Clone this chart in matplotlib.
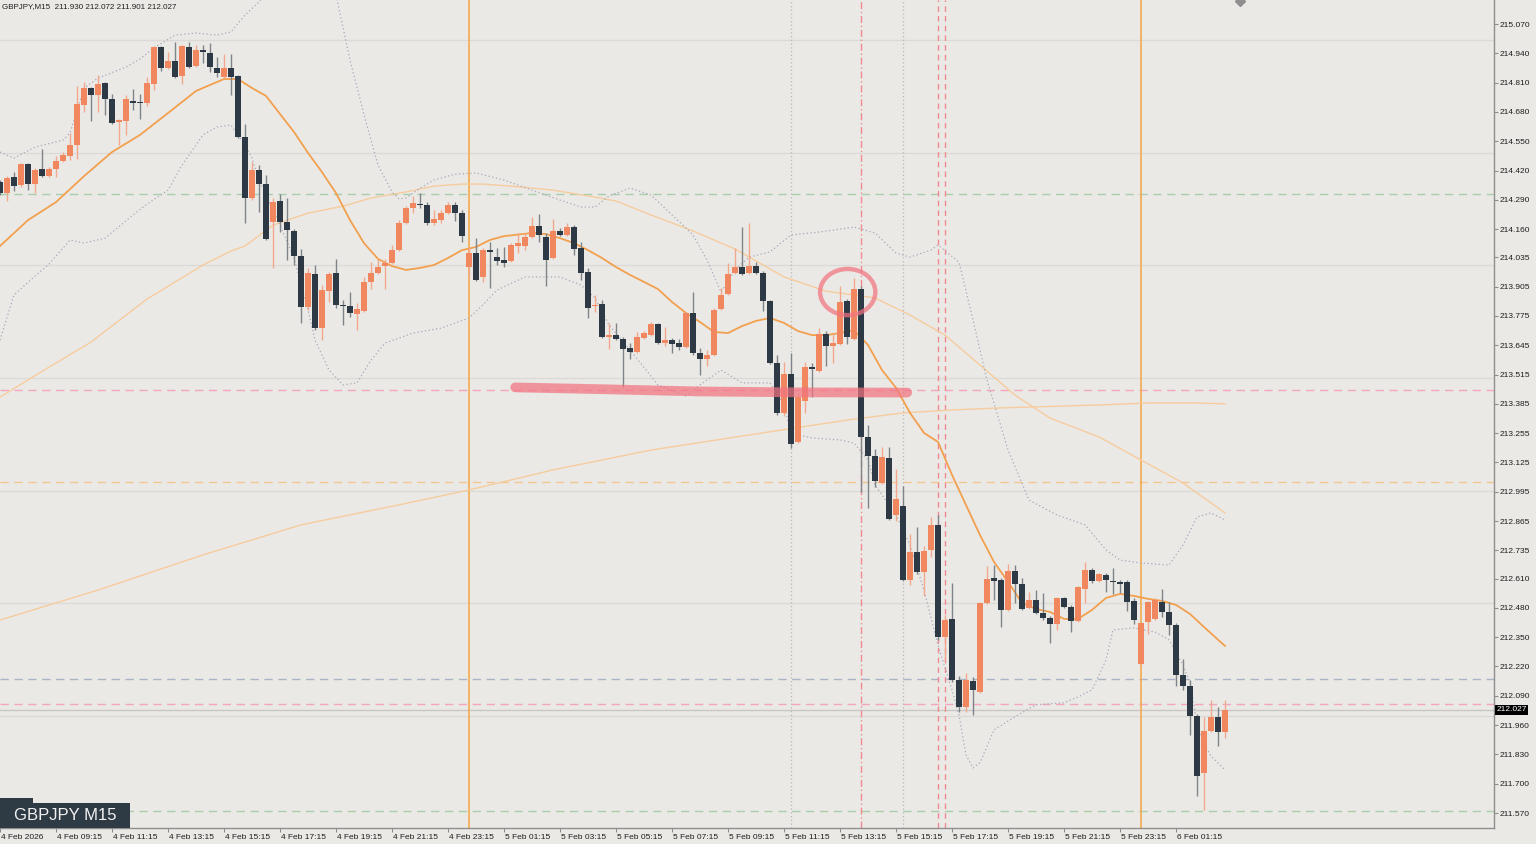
import matplotlib
matplotlib.use("Agg")
import matplotlib.pyplot as plt
import numpy as np
import pandas as pd
from matplotlib.patches import Ellipse, Rectangle
from matplotlib.transforms import ScaledTranslation, blended_transform_factory

# GBPJPY M15 bars, 4 Feb 2026 07:15 .. 6 Feb 03:00
opens = [
    214.369, 214.320, 214.391, 214.356, 214.449, 214.360, 214.426, 214.395, 214.426, 214.462,
    214.484, 214.533, 214.711, 214.786, 214.755, 214.808, 214.737, 214.635, 214.640, 214.729,
    214.724, 214.720, 214.804, 214.968, 214.875, 214.906, 214.839, 214.968, 214.884, 214.955,
    214.941, 214.875, 214.835, 214.875, 214.839, 214.569, 214.298, 214.422, 214.360, 214.191,
    214.285, 214.191, 214.152, 214.041, 213.815, 213.961, 213.721, 213.885, 213.965, 213.824,
    213.819, 213.784, 213.797, 213.926, 213.965, 213.996, 214.010, 214.067, 214.187, 214.254,
    214.271, 214.267, 214.187, 214.200, 214.231, 214.267, 214.231, 213.992, 214.054, 213.948,
    214.067, 214.036, 214.023, 214.019, 214.085, 214.085, 214.125, 214.174, 214.125, 214.032,
    214.152, 214.134, 214.169, 214.076, 213.970, 213.819, 213.828, 213.681, 213.690, 213.673,
    213.633, 213.615, 213.677, 213.690, 213.739, 213.655, 213.668, 213.655, 213.637, 213.788,
    213.611, 213.584, 213.602, 213.806, 213.872, 213.965, 213.992, 213.965, 213.996, 213.965,
    213.841, 213.566, 213.344, 213.518, 213.216, 213.398, 213.548, 213.531, 213.695, 213.642,
    213.650, 213.841, 213.673, 213.894, 213.238, 213.154, 213.034, 213.145, 212.892, 212.932,
    212.604, 212.728, 212.639, 212.737, 212.848, 212.351, 212.431, 212.160, 212.041, 212.156,
    212.107, 212.502, 212.613, 212.604, 212.471, 212.644, 212.586, 212.480, 212.515, 212.457,
    212.435, 212.409, 212.524, 212.484, 212.422, 212.564, 212.648, 212.599, 212.626, 212.599,
    212.595, 212.595, 212.511, 212.231, 212.418, 212.431, 212.506, 212.462, 212.404, 212.182,
    212.134, 211.999, 211.748, 211.934, 211.996, 211.930,
]
highs = [
    214.378, 214.395, 214.413, 214.453, 214.453, 214.431, 214.515, 214.435, 214.484, 214.502,
    214.587, 214.795, 214.813, 214.790, 214.844, 214.813, 214.759, 214.649, 214.755, 214.782,
    214.759, 214.835, 214.972, 214.972, 214.946, 214.990, 214.977, 214.990, 214.977, 214.977,
    214.986, 214.924, 214.937, 214.937, 214.844, 214.627, 214.458, 214.444, 214.400, 214.298,
    214.316, 214.298, 214.160, 214.072, 213.988, 214.001, 213.912, 213.970, 214.028, 213.846,
    213.881, 213.832, 213.948, 214.014, 214.028, 214.028, 214.090, 214.200, 214.262, 214.307,
    214.320, 214.280, 214.245, 214.245, 214.280, 214.280, 214.245, 214.081, 214.120, 214.076,
    214.103, 214.076, 214.081, 214.098, 214.143, 214.143, 214.214, 214.227, 214.143, 214.205,
    214.165, 214.187, 214.178, 214.103, 213.988, 213.868, 213.846, 213.744, 213.744, 213.681,
    213.655, 213.704, 213.708, 213.748, 213.744, 213.726, 213.677, 213.673, 213.793, 213.881,
    213.633, 213.624, 213.810, 213.899, 214.010, 214.076, 214.169, 214.187, 214.014, 213.974,
    213.846, 213.602, 213.571, 213.611, 213.433, 213.571, 213.566, 213.721, 213.708, 213.699,
    213.908, 213.850, 213.943, 213.908, 213.291, 213.185, 213.194, 213.194, 213.096, 213.021,
    212.808, 212.839, 212.755, 212.883, 212.892, 212.449, 212.590, 212.178, 212.191, 212.174,
    212.506, 212.666, 212.670, 212.613, 212.675, 212.670, 212.613, 212.550, 212.559, 212.546,
    212.444, 212.528, 212.528, 212.493, 212.577, 212.684, 212.657, 212.635, 212.635, 212.657,
    212.604, 212.604, 212.524, 212.418, 212.511, 212.524, 212.564, 212.506, 212.413, 212.254,
    212.160, 212.010, 211.996, 212.072, 212.041, 212.072,
]
lows = [
    214.311, 214.285, 214.329, 214.347, 214.333, 214.320, 214.391, 214.391, 214.391, 214.458,
    214.466, 214.471, 214.680, 214.640, 214.680, 214.667, 214.627, 214.533, 214.578, 214.688,
    214.649, 214.706, 214.777, 214.862, 214.870, 214.830, 214.804, 214.875, 214.879, 214.897,
    214.857, 214.835, 214.830, 214.755, 214.564, 214.187, 214.289, 214.236, 214.112, 213.988,
    214.147, 214.023, 214.001, 213.744, 213.801, 213.712, 213.668, 213.837, 213.810, 213.735,
    213.770, 213.712, 213.793, 213.894, 213.961, 213.894, 214.005, 214.063, 214.183, 214.231,
    214.254, 214.178, 214.178, 214.187, 214.227, 214.196, 214.103, 213.943, 213.930, 213.926,
    213.899, 214.001, 213.992, 214.014, 214.054, 214.067, 214.120, 214.103, 213.908, 214.028,
    214.129, 214.129, 214.045, 213.934, 213.766, 213.793, 213.677, 213.628, 213.668, 213.460,
    213.584, 213.611, 213.673, 213.686, 213.650, 213.642, 213.611, 213.624, 213.633, 213.602,
    213.513, 213.553, 213.597, 213.801, 213.868, 213.961, 213.957, 213.961, 213.961, 213.797,
    213.562, 213.335, 213.331, 213.189, 213.211, 213.344, 213.415, 213.526, 213.553, 213.566,
    213.646, 213.650, 213.668, 212.994, 212.923, 213.016, 213.029, 212.870, 212.865, 212.599,
    212.582, 212.630, 212.533, 212.706, 212.338, 212.249, 212.151, 212.018, 212.018, 212.005,
    212.103, 212.497, 212.515, 212.395, 212.466, 212.502, 212.471, 212.475, 212.453, 212.426,
    212.324, 212.382, 212.480, 212.373, 212.418, 212.502, 212.590, 212.595, 212.550, 212.542,
    212.546, 212.466, 212.409, 212.227, 212.364, 212.426, 212.440, 212.360, 212.134, 212.116,
    211.916, 211.646, 211.584, 211.930, 211.867, 211.901,
]
closes = [
    214.320, 214.387, 214.351, 214.449, 214.360, 214.422, 214.395, 214.426, 214.462, 214.489,
    214.533, 214.715, 214.786, 214.755, 214.804, 214.737, 214.631, 214.644, 214.737, 214.720,
    214.720, 214.808, 214.968, 214.875, 214.906, 214.835, 214.972, 214.879, 214.955, 214.946,
    214.879, 214.853, 214.875, 214.835, 214.569, 214.298, 214.422, 214.360, 214.116, 214.280,
    214.191, 214.156, 214.041, 213.815, 213.965, 213.721, 213.890, 213.961, 213.824, 213.819,
    213.788, 213.806, 213.926, 213.965, 213.992, 214.010, 214.067, 214.187, 214.254, 214.276,
    214.267, 214.187, 214.205, 214.231, 214.267, 214.231, 214.129, 214.054, 213.934, 214.067,
    214.059, 214.019, 214.010, 214.090, 214.098, 214.125, 214.174, 214.134, 214.023, 214.152,
    214.134, 214.169, 214.072, 213.965, 213.810, 213.824, 213.681, 213.690, 213.673, 213.628,
    213.615, 213.681, 213.699, 213.739, 213.655, 213.668, 213.650, 213.637, 213.788, 213.611,
    213.584, 213.602, 213.801, 213.868, 213.961, 213.992, 213.961, 213.996, 213.965, 213.841,
    213.566, 213.344, 213.518, 213.207, 213.415, 213.548, 213.540, 213.695, 213.642, 213.655,
    213.837, 213.681, 213.894, 213.238, 213.154, 213.043, 213.149, 212.874, 212.963, 212.604,
    212.728, 212.639, 212.732, 212.848, 212.351, 212.426, 212.160, 212.041, 212.160, 212.116,
    212.502, 212.608, 212.599, 212.471, 212.644, 212.586, 212.475, 212.515, 212.457, 212.435,
    212.409, 212.524, 212.484, 212.422, 212.573, 212.648, 212.599, 212.630, 212.604, 212.595,
    212.586, 212.506, 212.426, 212.413, 212.506, 212.515, 212.462, 212.404, 212.182, 212.134,
    211.999, 211.735, 211.934, 211.996, 211.930, 212.027,
]
times = pd.date_range("2026-02-04 07:15", periods=len(opens), freq="15min")

# indicator lines at (bar index, price)
ma_bars = [0, 4, 8, 12, 16, 20, 24, 28, 32, 34, 36, 38, 40, 42, 44, 46, 48, 50, 52, 54,
           56, 58, 60, 62, 64, 66, 68, 70, 72, 76, 78, 80, 82, 84, 86, 88, 90, 92, 94, 96,
           98, 100, 102, 104, 106, 108, 110, 112, 114, 116, 118, 120, 122, 124, 126, 128, 130, 132, 134, 136,
           138, 140, 142, 144, 146, 148, 150, 152, 154, 156, 158, 160, 162, 164, 166, 168, 170, 172, 175]
ma_vals = [214.085, 214.200, 214.280, 214.395, 214.502, 214.578, 214.675, 214.773, 214.826, 214.826,
           214.786, 214.751, 214.671, 214.591, 214.498, 214.413, 214.320, 214.200, 214.098, 214.028,
           213.996, 213.979, 213.988, 214.001, 214.032, 214.067, 214.081, 214.112, 214.129, 214.143,
           214.138, 214.120, 214.098, 214.067, 214.032, 213.992, 213.957, 213.926, 213.894, 213.837,
           213.788, 213.748, 213.704, 213.699, 213.730, 213.753, 213.766, 213.744, 213.708, 213.690,
           213.690, 213.699, 213.712, 213.646, 213.535, 213.456, 213.345, 213.256, 213.216, 213.070,
           212.936, 212.803, 212.684, 212.595, 212.502, 212.475, 212.462, 212.431, 212.431, 212.471,
           212.524, 212.542, 212.533, 212.520, 212.511, 212.493, 212.453, 212.395, 212.311]

bb_up_bars = [0, 2, 5, 9, 10, 12, 14, 18, 20, 22, 25, 28, 31, 33, 35, 37, 40, 45, 48, 50,
              52, 54, 56, 57, 58, 60, 62, 65, 68, 72, 76, 80, 83, 85, 87, 90, 93, 98, 99, 101,
              103, 105, 107, 110, 113, 117, 122, 125, 128, 130, 133, 134, 137, 139, 141, 144, 147, 151, 155, 158,
              160, 163, 167, 169, 171, 173, 175]
bb_up_vals = [214.502, 214.475, 214.524, 214.555, 214.587, 214.786, 214.830, 214.879, 214.915, 214.964,
              215.021, 215.030, 215.021, 215.035, 215.110, 215.168, 215.290, 215.310, 215.200, 214.910,
              214.667, 214.444, 214.325, 214.294, 214.298, 214.342, 214.378, 214.404, 214.409, 214.378,
              214.333, 214.289, 214.258, 214.258, 214.307, 214.342, 214.311, 214.165, 214.134, 214.023,
              213.881, 213.979, 214.036, 214.059, 214.134, 214.147, 214.169, 214.143, 214.054, 214.036,
              214.067, 214.090, 214.014, 213.757, 213.491, 213.180, 212.958, 212.892, 212.848, 212.737,
              212.692, 212.679, 212.670, 212.759, 212.883, 212.901, 212.870]

bb_lo_bars = [0, 2, 5, 7, 10, 12, 15, 19, 21, 24, 26, 29, 31, 33, 35, 36, 37, 40, 42, 44,
              45, 47, 49, 51, 53, 55, 59, 63, 67, 69, 71, 75, 80, 83, 85, 87, 90, 94, 98, 100,
              103, 106, 110, 112, 113, 116, 120, 122, 124, 125, 128, 130, 132, 134, 136, 137, 138, 139, 140, 142,
              145, 148, 152, 154, 156, 158, 159, 162, 165, 167, 169, 170, 171, 172, 173, 175]
bb_lo_vals = [213.668, 213.868, 213.952, 214.005, 214.112, 214.098, 214.120, 214.223, 214.271, 214.333,
              214.444, 214.578, 214.613, 214.622, 214.533, 214.475, 214.378, 214.178, 214.032, 213.801,
              213.668, 213.535, 213.469, 213.478, 213.579, 213.655, 213.699, 213.721, 213.766, 213.824,
              213.890, 213.948, 213.948, 213.912, 213.855, 213.735, 213.624, 213.469, 213.420, 213.469,
              213.535, 213.478, 213.478, 213.380, 213.256, 213.234, 213.225, 213.211, 213.136, 213.025,
              212.892, 212.759, 212.559, 212.315, 212.116, 212.005, 211.828, 211.770, 211.793, 211.939,
              211.997, 212.050, 212.059, 212.085, 212.116, 212.249, 212.382, 212.391, 212.373, 212.338,
              212.227, 212.147, 211.966, 211.876, 211.823, 211.761]

slow_a_bars = [0, 7, 13, 21, 29, 33, 35, 39, 44, 49, 53, 58, 62, 66, 69, 73, 79, 85, 88, 93,
               99, 105, 112, 118, 125, 130, 135, 140, 145, 150, 157, 163, 169, 175]
slow_a_vals = [213.415, 213.548, 213.659, 213.850, 214.001, 214.063, 214.085, 214.178, 214.231, 214.262,
               214.298, 214.325, 214.351, 214.360, 214.360, 214.351, 214.333, 214.302, 214.285, 214.223,
               214.152, 214.072, 213.948, 213.885, 213.855, 213.779, 213.690, 213.557, 213.424, 213.322,
               213.238, 213.136, 213.034, 212.901]

slow_b_bars = [0, 14, 29, 43, 57, 67, 79, 93, 107, 121, 129, 136, 143, 157, 164, 171, 175]
slow_b_vals = [212.426, 212.559, 212.715, 212.848, 212.937, 213.003, 213.092, 213.180, 213.247, 213.313,
               213.345, 213.358, 213.367, 213.380, 213.389, 213.389, 213.385]

round_levels = [215.0, 214.5, 214.0, 213.5, 213.0, 212.5, 212.0]
green_levels = [214.316, 211.580]
pink_levels = [213.446, 212.054]
blue_level = 212.165
orange_level = 213.040
bid = 212.027

day_bars = [67, 163]
dotted_vlines = [113, 129]
red_dashdot_vline = 123
red_dashed_vlines = [134, 135]

# hand-drawn marks
stroke_bars = [73.6, 86, 100, 114, 129.6]
stroke_prices = [213.458, 213.450, 213.440, 213.436, 213.435]
circle_bar, circle_price = 121.1, 213.881

price_ticks = [215.070, 214.940, 214.810, 214.680, 214.550, 214.420, 214.290, 214.160, 214.035,
               213.905, 213.775, 213.645, 213.515, 213.385, 213.255, 213.125, 212.995, 212.865,
               212.735, 212.610, 212.480, 212.350, 212.220, 212.090, 211.960, 211.830, 211.700, 211.570]

BG = "#EBE9E6"
BULL, BEAR = "#F0875F", "#2D3944"
BULL_WICK, BEAR_WICK = "#F2A88D", "#7E8488"
FONT = "Liberation Sans"
SMALL = 6.0

fig = plt.figure(figsize=(15.36, 8.44), dpi=100, facecolor=BG)
ax = fig.add_axes([0, 16 / 844, 1494 / 1536, 828 / 844], facecolor=BG)
ax.set_xlim(0, 1494 / 7)
ax.set_ylim(211.5035, 215.1765)

for lv in round_levels:
    ax.axhline(lv, color="#DCDAD6", lw=1.0, zorder=1)
for lv in green_levels:
    ax.axhline(lv, color="#A8CFAA", lw=1.0, ls=(0, (6, 4)), zorder=1)
for lv in pink_levels:
    ax.axhline(lv, color="#F3A6BE", lw=1.0, ls=(0, (6, 4)), zorder=1)
ax.axhline(blue_level, color="#A9B5C4", lw=1.0, ls=(0, (6, 4)), zorder=1)
ax.axhline(orange_level, color="#F2C690", lw=1.0, ls=(0, (6, 4)), zorder=1)
ax.axhline(bid, color="#C9C7C4", lw=1.0, zorder=1)

for b in day_bars:
    ax.axvline(b, color="#F4AA4C", lw=1.2, zorder=1)
for b in dotted_vlines:
    ax.axvline(b, color="#B9B7B4", lw=0.9, ls=(0, (1, 2)), zorder=1)
ax.axvline(red_dashdot_vline, color="#F08A90", lw=1.0, ls=(0, (5, 2, 1, 2)), zorder=1)
for b in red_dashed_vlines:
    ax.axvline(b, color="#F08A90", lw=1.0, ls=(0, (4, 3)), zorder=1)

ax.plot(slow_b_bars, slow_b_vals, color="#F6CC9E", lw=1.0, zorder=2)
ax.plot(slow_a_bars, slow_a_vals, color="#F6CC9E", lw=1.0, zorder=2)
ax.plot(bb_up_bars, bb_up_vals, color="#A9A7BA", lw=0.9, ls=(0, (1, 2)), zorder=2)
ax.plot(bb_lo_bars, bb_lo_vals, color="#A9A7BA", lw=0.9, ls=(0, (1, 2)), zorder=2)
ax.plot(ma_bars, ma_vals, color="#F2A04E", lw=1.3, zorder=2)

# candles
o, h, l, c = map(np.asarray, (opens, highs, lows, closes))
x = np.arange(len(o))
up = c >= o
ax.vlines(x, l, h, colors=np.where(up, BULL_WICK, BEAR_WICK), lw=1.0, zorder=3)
body = np.maximum(np.abs(c - o), 0.004)
ax.bar(x, body, bottom=np.minimum(o, c), width=0.72,
       color=np.where(up, BULL, BEAR), linewidth=0, zorder=4)

# hand-drawn highlight stroke and circle
ax.plot(stroke_bars, stroke_prices, color="#F27480", alpha=0.72, lw=7,
        solid_capstyle="round", zorder=5)
ax.add_patch(Ellipse((circle_bar, circle_price), 7.9, 0.205, fill=False,
                     ec="#F27480", alpha=0.72, lw=3.2, zorder=5))

# axes cosmetics, MT4 style
for side in ("left", "top"):
    ax.spines[side].set_visible(False)
for side in ("right", "bottom"):
    ax.spines[side].set_color("#8E8E8E")
    ax.spines[side].set_linewidth(1.0)

ax.yaxis.tick_right()
ax.set_yticks(price_ticks)
ax.set_yticklabels([f"{p:.3f}" for p in price_ticks])
ax.tick_params(axis="y", direction="out", length=3, width=0.8, color="#8E8E8E",
               pad=1, labelsize=SMALL, labelcolor="#1E1E1E")

xt = list(range(0, len(times), 8))
xl = [f"{times[i].day} {times[i]:%b %H:%M}" for i in xt]
xl[0] = "4 Feb 2026"
ax.set_xticks(xt)
ax.set_xticklabels(xl)
ax.tick_params(axis="x", direction="out", length=3, width=0.8, color="#8E8E8E",
               pad=1.5, labelsize=SMALL, labelcolor="#1E1E1E")
shift = ScaledTranslation(1 / 100, 0, fig.dpi_scale_trans)
for lbl in ax.get_xticklabels():
    lbl.set_horizontalalignment("left")
    lbl.set_transform(lbl.get_transform() + shift)
for lbl in ax.get_xticklabels() + ax.get_yticklabels():
    lbl.set_fontfamily(FONT)

# current bid box on price scale
tr = blended_transform_factory(ax.transAxes, ax.transData)
ax.text(1.0015, bid, f"{bid:.3f}", transform=tr, ha="left", va="center", color="white",
        fontsize=SMALL, family=FONT, clip_on=False,
        bbox=dict(boxstyle="square,pad=0.2", fc="black", ec="none"), zorder=6)

# chart shift marker at the top
ax.plot([177.1], [215.17], marker="D", ms=5, color="#8F8F8F", clip_on=True, zorder=6)

# header and symbol badge
fig.text(2 / 1536, 1 - 7 / 844, "GBPJPY,M15  211.930 212.072 211.901 212.027",
         fontsize=5.8, family=FONT, color="#1E1E1E", va="center")
fig.add_artist(Rectangle((0, 1 - 828 / 844), 130 / 1536, 25 / 844, transform=fig.transFigure,
                         fc="#2E3A44", ec="none", zorder=7))
fig.add_artist(Rectangle((0, 1 - 803 / 844), 33 / 1536, 5 / 844, transform=fig.transFigure,
                         fc="#2E3A44", ec="none", zorder=7))
fig.text(65 / 1536, 1 - 815.5 / 844, "GBPJPY M15", fontsize=12, family=FONT, color="#F2F2F2",
         ha="center", va="center", zorder=8)

fig.savefig("out.png", dpi=100, facecolor=BG)
